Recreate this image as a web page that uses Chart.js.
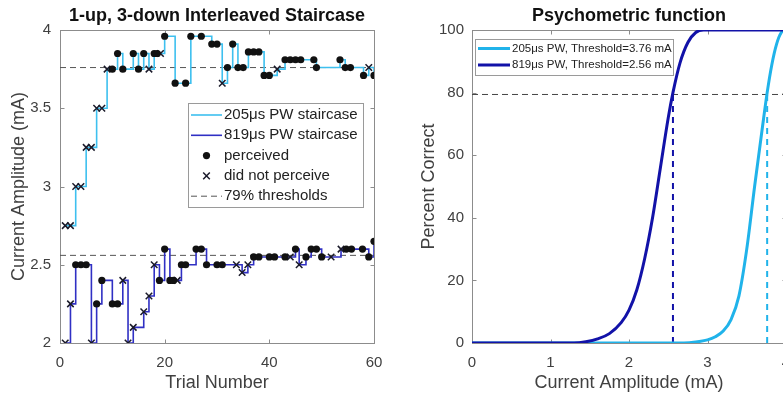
<!DOCTYPE html>
<html>
<head>
<meta charset="utf-8">
<script src="https://cdn.jsdelivr.net/npm/chart.js@4/dist/chart.umd.min.js"></script>
<style>
  html, body { margin: 0; padding: 0; background: #fff; overflow: hidden; width: 783px; height: 396px; }
  #left { position: absolute; left: 0; top: 0; }
  #right { position: absolute; left: 408px; top: 0; }
</style>
</head>
<body>
<canvas id="left" width="420" height="396"></canvas>
<canvas id="right" width="420" height="396"></canvas>
<script>
// staircase data (trial, amplitude in mA, 1 = perceived)
const pulseWidths = [205, 819];
const thresholds = [3.76, 2.56];
const thresholdPct = 79.4;

const cyanTrials = [1,2,3,4,5,6,7,8,9,10, 11,12,14,15,16,17,18,18.6,19.2,20, 22,24,25,27,29,30,31,32,33,34, 35,36,37,38,39,40,41.5,43,44,45, 46,48.5,49,53.5,54.5,55.5,58,59,60];
const cyanAmps = [2.75,2.75,3,3,3.25,3.25,3.5,3.5,3.75,3.75, 3.85,3.75,3.85,3.75,3.85,3.75,3.85,3.85,3.85,3.96, 3.66,3.66,3.96,3.96,3.91,3.91,3.66,3.76,3.91,3.76, 3.76,3.86,3.86,3.86,3.71,3.71,3.75,3.81,3.81,3.81, 3.81,3.81,3.76,3.81,3.76,3.76,3.71,3.76,3.71];
const cyanSeen = [0,0,0,0,0,0,0,0,0,1, 1,1,1,1,1,0,1,1,0,1, 1,1,1,1,1,1,0,1,1,1, 1,1,1,1,1,1,0,1,1,1, 1,1,1,1,1,1,1,0,1];

const blueTrials = [1,2,3,4,5,6,7,8,10,11, 12,13,14,16,17,18,19,20,21,21.7, 22.4,23.2,24,26,27,28,30,31,33.7,34.8, 35.9,37,38,40,41,43,44,45,45.7,47, 48,49,50,51.8,53.7,54.7,55.7,57.8,59,60];
const blueAmps = [2,2.25,2.5,2.5,2.5,2,2.25,2.4,2.25,2.25, 2.4,2,2.1,2.2,2.3,2.5,2.4,2.6,2.4,2.4, 2.4,2.5,2.5,2.6,2.6,2.5,2.5,2.5,2.5,2.45, 2.5,2.55,2.55,2.55,2.55,2.55,2.55,2.6,2.5,2.55, 2.6,2.6,2.55,2.55,2.6,2.6,2.6,2.6,2.55,2.65];
const blueSeen = [0,0,1,1,1,0,1,1,1,1, 0,0,0,0,0,0,1,1,1,1, 0,1,1,1,1,1,1,1,0,0, 0,1,1,1,1,1,0,1,0,1, 1,1,1,0,0,1,1,1,1,1];

// psychometric curves, points (mA, % correct)
const cyanCurveAmps = [0, 2.7, 2.85, 3.0, 3.1, 3.2, 3.3, 3.4, 3.5, 3.6, 3.7, 3.76, 3.82, 3.88, 3.94, 4];
const cyanCurvePct  = [0, 0, 0.3, 1, 2, 3.8, 7.5, 15, 30, 50, 69, 80, 89, 95.5, 99.2, 100];
const blueCurveAmps = [0, 1.3, 1.45, 1.6, 1.75, 1.9, 2.0, 2.1, 2.2, 2.3, 2.4, 2.5, 2.56, 2.65, 2.75, 2.85, 2.95, 4];
const blueCurvePct  = [0, 0, 0.4, 1.3, 3, 6.5, 10.5, 17, 27, 40, 56, 72, 80, 89.5, 96, 99.2, 100, 100];

const FONT = "'Liberation Sans', Arial, Helvetica, sans-serif";
const TXT = '#404040';
const CYAN = '#3ec0ef', BLUE = '#3030c4';
const CYAN2 = '#20b3ea', BLUE2 = '#1212a8';

function pts(xs, ys) { return xs.map((x, i) => ({x: x, y: ys[i]})); }
function pick(xs, ys, flags, want) {
  const out = [];
  xs.forEach((x, i) => { if (flags[i] === want) out.push({x: x, y: ys[i]}); });
  return out;
}

// box round the axes with inward ticks on all four sides
const frame = {
  id: 'frame',
  beforeDatasetsDraw(chart, args, opts) {
    const {ctx, chartArea: a, scales} = chart;
    const L = Math.round(a.left) + 0.5, R = Math.round(a.right) + 0.5;
    const T = Math.round(a.top) + 0.5, B = Math.round(a.bottom) + 0.5;
    ctx.save();
    ctx.strokeStyle = opts.color;
    ctx.lineWidth = 1;
    ctx.strokeRect(L, T, R - L, B - T);
    ctx.beginPath();
    scales.x.ticks.forEach(t => {
      const px = Math.round(scales.x.getPixelForValue(t.value)) + 0.5;
      ctx.moveTo(px, B); ctx.lineTo(px, B - opts.len);
      ctx.moveTo(px, T); ctx.lineTo(px, T + opts.len);
    });
    scales.y.ticks.forEach(t => {
      const py = Math.round(scales.y.getPixelForValue(t.value)) + 0.5;
      ctx.moveTo(L, py); ctx.lineTo(L + opts.len, py);
      ctx.moveTo(R, py); ctx.lineTo(R - opts.len, py);
    });
    ctx.stroke();
    ctx.restore();
  }
};

// title centred over the plot area
const panelTitle = {
  id: 'panelTitle',
  afterDraw(chart, args, opts) {
    const {ctx, chartArea: a} = chart;
    ctx.save();
    ctx.font = 'bold ' + opts.size + 'px ' + FONT;
    ctx.fillStyle = '#111';
    ctx.textAlign = 'center';
    ctx.textBaseline = 'middle';
    ctx.fillText(opts.text, (a.left + a.right) / 2, opts.y);
    ctx.restore();
  }
};

// legend drawn inside the axes, in a box
const boxLegend = {
  id: 'boxLegend',
  afterDraw(chart, args, opts) {
    const ctx = chart.ctx;
    ctx.save();
    ctx.fillStyle = '#fff';
    ctx.fillRect(opts.x, opts.y, opts.w, opts.h);
    ctx.strokeStyle = '#9a9a9a';
    ctx.lineWidth = 1;
    ctx.strokeRect(opts.x + 0.5, opts.y + 0.5, opts.w, opts.h);
    ctx.font = opts.size + 'px ' + FONT;
    ctx.textBaseline = 'middle';
    opts.items.forEach((idx, i) => {
      const ds = chart.data.datasets[idx];
      const cy = opts.y + opts.first + i * opts.row;
      const x0 = opts.x + 3, x1 = opts.x + 3 + opts.sample;
      ctx.save();
      if (ds.showLine === false) {
        const cx = (x0 + x1) / 2;
        ctx.fillStyle = ds.pointBackgroundColor;
        ctx.strokeStyle = ds.pointBorderColor;
        ctx.lineWidth = ds.pointBorderWidth;
        if (ds.pointStyle === 'circle') {
          ctx.beginPath(); ctx.arc(cx, cy, ds.pointRadius, 0, Math.PI * 2); ctx.fill();
        } else {
          const r = ds.pointRadius * 0.72;
          ctx.beginPath();
          ctx.moveTo(cx - r, cy - r); ctx.lineTo(cx + r, cy + r);
          ctx.moveTo(cx - r, cy + r); ctx.lineTo(cx + r, cy - r);
          ctx.stroke();
        }
      } else {
        ctx.strokeStyle = ds.borderColor;
        ctx.lineWidth = ds.borderWidth;
        ctx.setLineDash(ds.borderDash || []);
        ctx.beginPath(); ctx.moveTo(x0, cy); ctx.lineTo(x1, cy); ctx.stroke();
      }
      ctx.restore();
      ctx.fillStyle = '#222';
      ctx.fillText(ds.label, x1 + 2, cy);
    });
    ctx.restore();
  }
};

function axis(opts) {
  return {
    type: 'linear',
    min: opts.min, max: opts.max,
    afterFit: opts.fit,
    grid: { display: false, drawTicks: false },
    border: { display: false },
    ticks: { stepSize: opts.step, padding: opts.pad, color: TXT, font: { family: FONT, size: 15 },
             callback: v => String(Number(v)) },
    title: { display: true, text: opts.title, color: TXT, font: { family: FONT, size: 18 }, padding: opts.tpad }
  };
}

new Chart(document.getElementById('left'), {
  type: 'line',
  data: {
    datasets: [
      { label: 'perceived', data: pick(cyanTrials, cyanAmps, cyanSeen, 1).concat(pick(blueTrials, blueAmps, blueSeen, 1)),
        showLine: false, pointStyle: 'circle', pointRadius: 3.6, pointBackgroundColor: '#111', pointBorderColor: '#111', pointBorderWidth: 0, order: 0 },
      { label: 'did not perceive', data: pick(cyanTrials, cyanAmps, cyanSeen, 0).concat(pick(blueTrials, blueAmps, blueSeen, 0)),
        showLine: false, pointStyle: 'crossRot', pointRadius: 4.6, pointBackgroundColor: '#1a1a2a', pointBorderColor: '#1a1a2a', pointBorderWidth: 1.5, order: 0 },
      { label: pulseWidths[0] + 'μs PW staircase', data: pts(cyanTrials, cyanAmps), stepped: 'before',
        borderColor: CYAN, borderWidth: 1.6, pointRadius: 0, order: 2 },
      { label: pulseWidths[1] + 'μs PW staircase', data: pts(blueTrials, blueAmps), stepped: 'before',
        borderColor: BLUE, borderWidth: 1.6, pointRadius: 0, order: 1 },
      { label: '79% thresholds', data: [{x: 0, y: thresholds[0]}, {x: 60, y: thresholds[0]}],
        borderColor: '#555', borderWidth: 1, borderDash: [6, 4], pointRadius: 0, order: 3 },
      { label: '79% thresholds', data: [{x: 0, y: thresholds[1]}, {x: 60, y: thresholds[1]}],
        borderColor: '#555', borderWidth: 1, borderDash: [6, 4], pointRadius: 0, order: 3 }
    ]
  },
  options: {
    responsive: false,
    animation: false,
    layout: { padding: { top: 30, right: 46, left: 0, bottom: 0 } },
    scales: {
      x: axis({ min: 0, max: 60, step: 20, pad: 11, title: 'Trial Number', tpad: { top: 0, bottom: 2 }, fit: s => { s.height = 53; } }),
      y: axis({ min: 2, max: 4, step: 0.5, pad: 9, title: 'Current Amplitude (mA)', tpad: { top: 8, bottom: 0 }, fit: s => { s.width = 60; } })
    },
    plugins: {
      legend: { display: false },
      tooltip: { enabled: false },
      frame: { color: '#8c8c8c', len: 4 },
      panelTitle: { text: '1-up, 3-down Interleaved Staircase', size: 18, y: 16 },
      boxLegend: { x: 188, y: 103, w: 175, h: 104, first: 12, row: 20.3, sample: 31, size: 15, items: [2, 3, 0, 1, 4] }
    }
  },
  plugins: [frame, panelTitle, boxLegend]
});

new Chart(document.getElementById('right'), {
  type: 'line',
  data: {
    datasets: [
      { label: pulseWidths[0] + 'μs PW, Threshold=' + thresholds[0].toFixed(2) + ' mA', data: pts(cyanCurveAmps, cyanCurvePct),
        borderColor: CYAN2, borderWidth: 3, pointRadius: 0, cubicInterpolationMode: 'monotone', order: 2 },
      { label: pulseWidths[1] + 'μs PW, Threshold=' + thresholds[1].toFixed(2) + ' mA', data: pts(blueCurveAmps, blueCurvePct),
        borderColor: BLUE2, borderWidth: 3, pointRadius: 0, cubicInterpolationMode: 'monotone', order: 1 },
      { label: 'criterion', data: [{x: 0, y: thresholdPct}, {x: 4, y: thresholdPct}],
        borderColor: '#444', borderWidth: 1, borderDash: [6, 4], pointRadius: 0, order: 3 },
      { label: 'threshold 205', data: [{x: thresholds[0], y: 0}, {x: thresholds[0], y: thresholdPct}],
        borderColor: CYAN2, borderWidth: 2, borderDash: [6, 5], pointRadius: 0, order: 3 },
      { label: 'threshold 819', data: [{x: thresholds[1], y: 0}, {x: thresholds[1], y: thresholdPct}],
        borderColor: BLUE2, borderWidth: 2, borderDash: [6, 5], pointRadius: 0, order: 3 }
    ]
  },
  options: {
    responsive: false,
    animation: false,
    layout: { padding: { top: 30, right: 42, left: 0, bottom: 0 } },
    scales: {
      x: axis({ min: 0, max: 4, step: 1, pad: 11, title: 'Current Amplitude (mA)', tpad: { top: 0, bottom: 2 }, fit: s => { s.height = 53; } }),
      y: axis({ min: 0, max: 100, step: 20, pad: 8, title: 'Percent Correct', tpad: { top: 10, bottom: 0 }, fit: s => { s.width = 64; } })
    },
    plugins: {
      legend: { display: false },
      tooltip: { enabled: false },
      frame: { color: '#8c8c8c', len: 4 },
      panelTitle: { text: 'Psychometric function', size: 18, y: 16 },
      boxLegend: { x: 67, y: 39, w: 198, h: 36, first: 9.5, row: 16.5, sample: 32, size: 11.5, items: [0, 1] }
    }
  },
  plugins: [frame, panelTitle, boxLegend]
});
</script>
</body>
</html>
